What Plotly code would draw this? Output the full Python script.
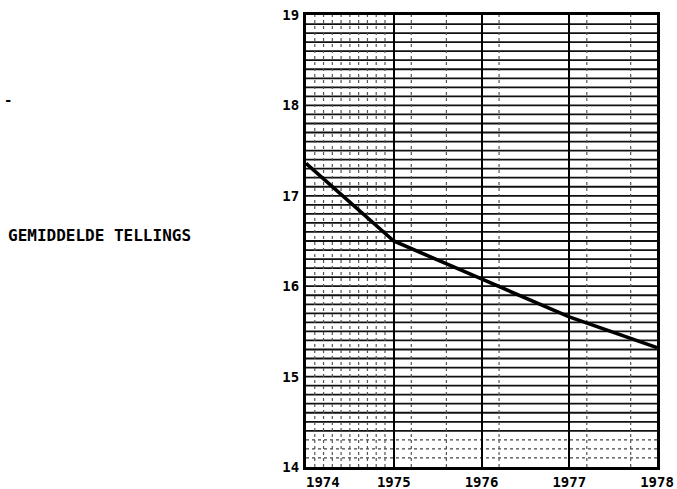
import plotly.graph_objects as go

years = [1974, 1975, 1976, 1977, 1978]
values = [17.36, 16.5, 16.08, 15.66, 15.32]
y_ticks = [14, 15, 16, 17, 18, 19]
x_ticklabels = ["\u00a0\u00a0\u00a0\u00a01974", "1975", "1976", "1977", "1978"]
title_text = "GEMIDDELDE TELLINGS"

font_family = "DejaVu Sans Mono"

W, H = 677, 489
L, R, T, B = 306, 20, 15, 22
PW = W - L - R
PH = H - T - B

fig = go.Figure()

shapes = []
# horizontal grid every 0.1
for i in range(1, 50):
    yv = 14 + i / 10
    dotted = yv < 14.35
    shapes.append(dict(type="line", xref="x", yref="y", x0=1974, x1=1978, y0=yv, y1=yv,
                       line=dict(color="#111" if not dotted else "#444",
                                 width=1.8 if not dotted else 1.3,
                                 dash="solid" if not dotted else "dot"),
                       layer="below"))
# dotted vertical lines
dotted_x = [1974 + k / 10 for k in range(1, 10)] + [1975.2, 1975.6, 1976.2, 1977.2, 1977.7]
for xv in dotted_x:
    shapes.append(dict(type="line", xref="x", yref="y", x0=xv, x1=xv, y0=14, y1=19,
                       line=dict(color="#555", width=1.2, dash="dot"), layer="below"))

fig.add_trace(go.Scatter(x=years, y=values, mode="lines",
                         line=dict(color="black", width=3.6), showlegend=False))

fig.update_layout(
    width=W, height=H,
    margin=dict(l=L, r=R, t=T, b=B, autoexpand=False),
    paper_bgcolor="white", plot_bgcolor="white",
    shapes=shapes,
    font=dict(family=font_family, color="black"),
    xaxis=dict(range=[1974, 1978], tickvals=years, ticktext=x_ticklabels,
               showgrid=True, gridcolor="black", gridwidth=2,
               showline=True, linecolor="black", linewidth=3, mirror=True,
               ticks="", zeroline=False, automargin=False, ticklabeloverflow="allow",
               tickfont=dict(family=font_family, size=14, weight="bold")),
    yaxis=dict(range=[14, 19], tickvals=y_ticks,
               showgrid=False,
               showline=True, linecolor="black", linewidth=3, mirror=True,
               ticks="", zeroline=False, ticklabelstandoff=1, automargin=False,
               ticklabeloverflow="allow",
               tickfont=dict(family=font_family, size=14, weight="bold")),
    annotations=[
        dict(text=title_text, xref="paper", yref="paper", x=(6 - L) / PW,
             y=(H - B - 235) / PH,
             xanchor="left", yanchor="middle", showarrow=False,
             font=dict(family=font_family, size=16, weight="bold", color="black")),
        dict(text="-", xref="paper", yref="paper", x=(2 - L) / PW,
             y=(H - B - 100) / PH,
             xanchor="left", yanchor="middle", showarrow=False,
             font=dict(family=font_family, size=14, weight="bold", color="black")),
    ],
)

fig.write_html(
    "out.html",
    config={"displayModeBar": False},
    post_script="document.body.style.margin='0';document.body.style.overflow='hidden';",
)
